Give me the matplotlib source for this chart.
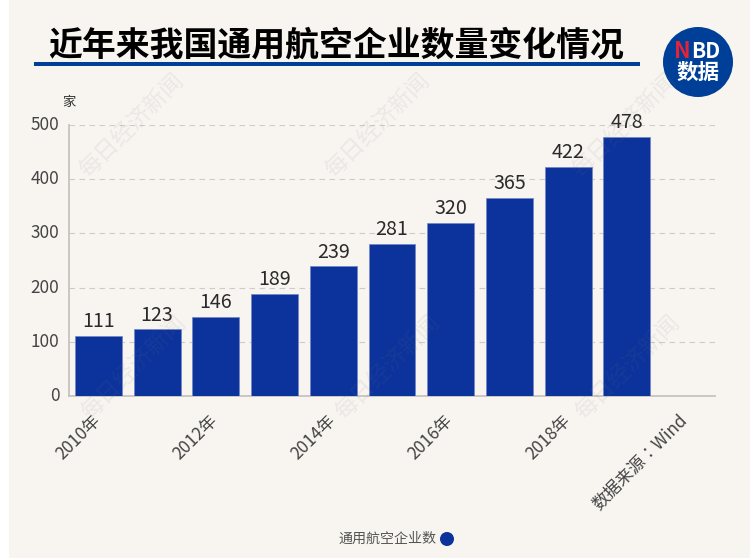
import matplotlib
matplotlib.use("Agg")
import matplotlib.pyplot as plt
from matplotlib.patches import Rectangle, Circle
from matplotlib.transforms import ScaledTranslation

plt.rcParams['font.family'] = ['Noto Sans CJK SC', 'DejaVu Sans']

# ---------- dados ----------
years = ["2010年", "2011年", "2012年", "2013年", "2014年", "2015年", "2016年", "2017年", "2018年", "2019年"]
companies = [111, 123, 146, 189, 239, 281, 320, 365, 422, 478]
source_label = "数据来源：Wind"
shown_labels = ["2010年", "2012年", "2014年", "2016年", "2018年", source_label]
y_ticks = [0, 100, 200, 300, 400, 500]

title = "近年来我国通用航空企业数量变化情况"
unit = "家"
legend_label = "通用航空企业数"
watermark = "每日经济新闻"

W, H = 750, 558
cream = "#F8F5F1"
bar_color = "#0C339C"
line_blue = "#003F98"

fig = plt.figure(figsize=(W / 100, H / 100), dpi=100, facecolor="white")
fig.patches.append(Rectangle((9 / W, 0), 1 - 9 / W, 1, transform=fig.transFigure, facecolor=cream, edgecolor="none", zorder=-5))

# ---------- grafico ----------
ax = fig.add_axes([69 / W, 1 - 396 / H, 646 / W, 271 / H])
ax.patch.set_alpha(0)
categories = years + [source_label]
x = list(range(len(categories)))
ax.bar(x[:len(years)], companies, width=0.8, color=bar_color, edgecolor="#6F86C6", linewidth=0.5, zorder=3)
for xi, v in zip(x, companies):
    ax.text(xi, v + 7, str(v), ha="center", va="bottom", fontsize=14.2, color="#2A2A2A", zorder=4)

ax.set_xlim(-0.5, len(categories) - 0.5)
ax.set_ylim(0, 500)
ax.set_yticks(y_ticks)
ax.tick_params(axis="y", length=0, pad=7, labelsize=12.4, labelcolor="#444444")
ax.grid(axis="y", color="#CFCCC8", linestyle=(0, (5, 4)), linewidth=0.8, zorder=0)
ax.set_xticks([i for i, c in enumerate(categories) if c in shown_labels])
ax.set_xticklabels([c for c in categories if c in shown_labels], rotation=45, ha="right", rotation_mode="anchor", fontsize=12.3, color="#444444")
ax.tick_params(axis="x", length=0, pad=11)

# deslocar os rotulos alguns pixels
for lab in ax.get_xticklabels():
    lab.set_transform(lab.get_transform() + ScaledTranslation(-7 / 100, 0, fig.dpi_scale_trans))
    if lab.get_text() == source_label:
        lab.set_fontfamily(['Noto Sans CJK TC', 'DejaVu Sans'])
for lab in ax.get_yticklabels():
    lab.set_transform(lab.get_transform() + ScaledTranslation(0, 2 / 100, fig.dpi_scale_trans))

for s in ["top", "right"]:
    ax.spines[s].set_visible(False)
for s in ["left", "bottom"]:
    ax.spines[s].set_color("#C6C3C0")
    ax.spines[s].set_linewidth(1.3)

# ---------- titulo, logo, legenda, marca d'agua (em pixels) ----------
ov = fig.add_axes([0, 0, 1, 1], zorder=10)
ov.set_xlim(0, W)
ov.set_ylim(H, 0)
ov.axis("off")

ov.text(48, 45, title, fontsize=24.4, fontweight="bold", color="black", ha="left", va="center")
ov.add_patch(Rectangle((34, 62), 606, 4, facecolor=line_blue, edgecolor="none"))
ov.text(62, 102, unit, fontsize=9.6, color="#333333", ha="left", va="center")

ov.add_patch(Circle((698, 62), 35, facecolor=line_blue, edgecolor="none"))
ov.text(691, 51, "N", fontsize=16, fontweight="bold", color="#E0243A", ha="right", va="center")
ov.text(691.5, 51, "BD", fontsize=15, fontweight="bold", color="white", ha="left", va="center")
ov.text(698.5, 72, "数据", fontsize=15.5, fontweight="bold", color="white", ha="center", va="center")

ov.text(436, 539, legend_label, fontsize=10.1, color="#555555", ha="right", va="center")
ov.add_patch(Circle((447, 539), 7, facecolor=bar_color, edgecolor="none"))

for wx, wy in [(132, 125), (378, 125), (625, 125), (134, 367), (388, 367), (628, 367)]:
    ov.text(wx, wy, watermark, fontsize=16.5, rotation=45, color="#777777", alpha=0.1, ha="center", va="center")

fig.savefig("out.png", dpi=100, facecolor=fig.get_facecolor())
